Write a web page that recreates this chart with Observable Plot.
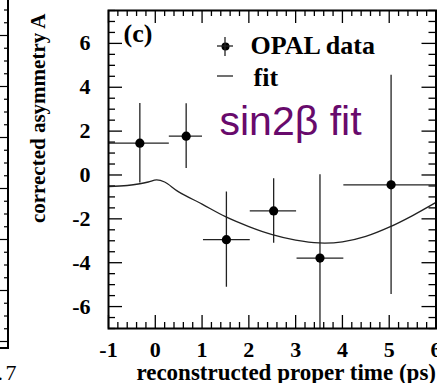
<!DOCTYPE html>
<html><head><meta charset="utf-8">
<script src="https://cdn.jsdelivr.net/npm/d3@7"></script>
<script src="https://cdn.jsdelivr.net/npm/@observablehq/plot@0.6"></script>
<style>
body{margin:0;background:#fff;}
svg{display:block;}
</style></head><body><div id="chart"></div>
<script>
// Data
const timeCenter = [-0.33, 0.66, 1.52, 2.53, 3.52, 5.04];
const timeLow    = [-1.0, 0.30, 1.03, 2.03, 3.03, 4.03];
const timeHigh   = [0.30, 1.01, 2.03, 3.02, 4.03, 6.0];
const asym       = [1.45, 1.77, -2.95, -1.64, -3.79, -0.45];
const asymErr    = [1.81, 1.48, 2.17, 1.47, 3.8, 5.0];

const fitTime = [-1, -0.6, -0.33, -0.15, 0.03, 0.2, 0.5, 1.0, 1.5, 2.0, 2.5, 3.0, 3.5, 4.0, 4.5, 5.0, 5.5, 6.0];
const fitAsym = [-0.53, -0.48, -0.40, -0.32, -0.22, -0.32, -0.77, -1.33, -1.9, -2.35, -2.72, -2.97, -3.1, -3.05, -2.8, -2.38, -1.85, -1.25];

const xTicks = [-1, 0, 1, 2, 3, 4, 5, 6];
const yTicks = [-6, -4, -2, 0, 2, 4, 6];
const xLabel = "reconstructed proper time (ps)";
const yLabel = "corrected asymmetry A";
const panelTag = "(c)";
const legendData = "OPAL data";
const legendFit = "fit";
const annotation = "sin2\u03B2 fit";

const points = timeCenter.map((t, i) => ({t, lo: timeLow[i], hi: timeHigh[i], a: asym[i], a1: asym[i] - asymErr[i], a2: asym[i] + asymErr[i]}));
const fit = fitTime.map((t, i) => ({t, a: fitAsym[i]}));

const W = 437, H = 383, mL = 108, mR = 1.5, mT = 10, mB = 55;
const plotW = W - mL - mR, plotH = H - mT - mB;
const xMinor = d3.range(-10, 61, 2).filter(v => v % 10 !== 0).map(v => v / 10).filter(v => v > -1 && v < 6);
const yMinor = d3.range(-14, 16, 1).filter(v => v % 4 !== 0).map(v => v / 2);

const ink = "#222";
const serif = "'Liberation Serif', 'Times New Roman', serif";
const chart = Plot.plot({
  width: W, height: H,
  marginLeft: mL, marginRight: mR, marginTop: mT, marginBottom: mB,
  x: {domain: [-1, 6]},
  y: {domain: [-7, 7.5]},
  style: {fontFamily: serif, fontWeight: "bold", fontSize: "22px", background: "white", overflow: "visible", color: "black"},
  marks: [
    // inward ticks
    Plot.ruleX(xTicks, {insetTop: plotH - 13, stroke: "black", strokeWidth: 1.3}),
    Plot.ruleX(xMinor, {insetTop: plotH - 6, stroke: "black", strokeWidth: 1.3}),
    Plot.ruleX(xTicks, {insetBottom: plotH - 13, stroke: "black", strokeWidth: 1.3}),
    Plot.ruleX(xMinor, {insetBottom: plotH - 6, stroke: "black", strokeWidth: 1.3}),
    Plot.ruleY(yTicks, {insetRight: plotW - 14, stroke: "black", strokeWidth: 1.3}),
    Plot.ruleY(yMinor, {insetRight: plotW - 7, stroke: "black", strokeWidth: 1.3}),
    Plot.ruleY(yTicks, {insetLeft: plotW - 14, stroke: "black", strokeWidth: 1.3}),
    Plot.ruleY(yMinor, {insetLeft: plotW - 7, stroke: "black", strokeWidth: 1.3}),
    // data
    Plot.line(fit, {x: "t", y: "a", curve: "catmull-rom", stroke: ink, strokeWidth: 1.3}),
    Plot.ruleY(points, {y: "a", x1: "lo", x2: "hi", stroke: ink, strokeWidth: 1.3}),
    Plot.ruleX(points, {x: "t", y1: "a1", y2: "a2", stroke: ink, strokeWidth: 1.3, clip: true}),
    Plot.dot(points, {x: "t", y: "a", r: 4.6, fill: "black"}),
    Plot.frame({stroke: "black", strokeWidth: 2}),
    // axes
    Plot.axisX({ticks: xTicks, tickSize: 0, tickPadding: 13, tickFormat: d => String(d), label: null, fontSize: 22}),
    Plot.axisY({ticks: yTicks, tickSize: 0, tickPadding: 18, tickFormat: d => String(d), label: null, fontSize: 22}),
    Plot.text([yLabel], {text: d => d, frameAnchor: "top-left", lineAnchor: "middle", rotate: -90, textAnchor: "end", dx: -70, dy: 3, fontSize: 21}),
    Plot.text([xLabel], {text: d => d, frameAnchor: "bottom-right", lineAnchor: "middle", textAnchor: "end", dx: 0, dy: 44, fontSize: 23}),
    // panel tag and legend
    Plot.text([panelTag], {text: d => d, frameAnchor: "top-left", lineAnchor: "middle", textAnchor: "start", dx: 15, dy: 23, fontSize: 26}),
    Plot.text([legendData], {text: d => d, frameAnchor: "top-left", lineAnchor: "middle", textAnchor: "start", dx: 142, dy: 35, fontSize: 26}),
    Plot.text([legendFit], {text: d => d, frameAnchor: "top-left", lineAnchor: "middle", textAnchor: "start", dx: 145, dy: 67, fontSize: 26}),
    Plot.dot([0], {frameAnchor: "top-left", dx: 117, dy: 36, r: 4, fill: "black"}),
    Plot.text([annotation], {text: d => d, frameAnchor: "top-left", lineAnchor: "middle", textAnchor: "start", dx: 111, dy: 111, fontSize: 41, fill: "#680a6c", fontWeight: "normal", fontFamily: "'Liberation Sans', Arial, sans-serif", letterSpacing: "1.3px"})
  ]
});

const svg = d3.select(chart);
// legend symbol strokes
svg.append("line").attr("x1", 225).attr("x2", 225).attr("y1", 37).attr("y2", 56).attr("stroke", ink).attr("stroke-width", 1.3);
svg.append("line").attr("x1", 217).attr("x2", 233).attr("y1", 46).attr("y2", 46).attr("stroke", ink).attr("stroke-width", 1.3);
svg.append("line").attr("x1", 217).attr("x2", 233).attr("y1", 76).attr("y2", 76).attr("stroke", ink).attr("stroke-width", 1.3);
// sliver of the neighbouring panel (b)
const sl = svg.append("g");
sl.append("line").attr("x1", 8).attr("x2", 8).attr("y1", 0).attr("y2", 349).attr("stroke", "black").attr("stroke-width", 2);
sl.append("line").attr("x1", 0).attr("x2", 9).attr("y1", 348).attr("y2", 348).attr("stroke", "black").attr("stroke-width", 2);
for (let i = 0; i < 28; i++) {
  const y = 10 + i * 12.75;
  if (y > 346) break;
  const long = (i % 4) === 2;
  sl.append("line").attr("x1", long ? 0 : 4).attr("x2", 8).attr("y1", y).attr("y2", y).attr("stroke", "black").attr("stroke-width", 1.2);
}
sl.append("text").attr("x", 11).attr("y", 380).attr("text-anchor", "middle").attr("font-size", 22).attr("font-weight", "normal").text("7");
sl.append("text").attr("x", 3).attr("y", 380).attr("text-anchor", "end").attr("font-size", 22).attr("font-weight", "normal").text(".");

document.getElementById("chart").appendChild(chart);
</script>
</body></html>
